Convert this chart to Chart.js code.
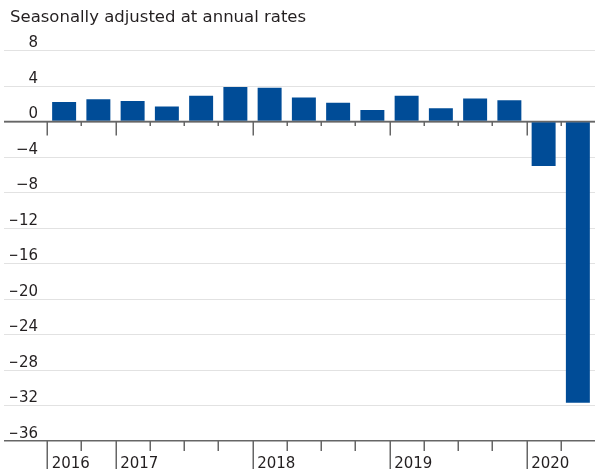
<!DOCTYPE html>
<html>
<head>
<meta charset="utf-8">
<script src="https://cdn.jsdelivr.net/npm/chart.js@4.4.1/dist/chart.umd.min.js"></script>
<style>
  html, body { margin: 0; padding: 0; background: #fff; }
  #wrap { width: 595px; height: 473px; position: relative; }
</style>
</head>
<body>
<div id="wrap"><canvas id="c" width="595" height="473"></canvas></div>
<script>
// ---- data ----
const title = 'Seasonally adjusted at annual rates';
const quarters = ['2016 Q3','2016 Q4','2017 Q1','2017 Q2','2017 Q3','2017 Q4',
                  '2018 Q1','2018 Q2','2018 Q3','2018 Q4','2019 Q1','2019 Q2',
                  '2019 Q3','2019 Q4','2020 Q1','2020 Q2'];
const growth = [2.2, 2.5, 2.3, 1.7, 2.9, 3.9, 3.8, 2.7, 2.1, 1.3, 2.9, 1.5, 2.6, 2.4, -5.0, -31.7];
const yMin = -36, yMax = 8, yStep = 4;

const FONT = "'DejaVu Sans', sans-serif";
const AXIS_COLOR = '#666666';
const GRID_COLOR = '#e2e2e2';
const TEXT_COLOR = '#231f20';
const BAR_COLOR = '#004c97';

function isYearStart(i) {
  return i === 0 || quarters[i].slice(0, 4) !== quarters[i - 1].slice(0, 4);
}

const tickPlugin = {
  id: 'quarterTicks',
  afterDatasetsDraw(chart) {
    const xs = chart.scales.x, ys = chart.scales.y;
    const ctx = chart.ctx;
    const step = xs.getPixelForValue(1) - xs.getPixelForValue(0);
    const y0 = ys.getPixelForValue(0);
    const yb = ys.getPixelForValue(yMin);
    ctx.save();
    ctx.strokeStyle = AXIS_COLOR;
    ctx.lineWidth = 1.5;
    // redraw zero line over bars
    ctx.beginPath();
    ctx.moveTo(4, y0); ctx.lineTo(chart.width, y0);
    ctx.stroke();
    for (let i = 0; i < quarters.length; i++) {
      const bx = Math.round(xs.getPixelForValue(i) - step / 2) + 0.25;
      const yr = isYearStart(i);
      ctx.beginPath();
      ctx.moveTo(bx, y0); ctx.lineTo(bx, y0 + (yr ? 14 : 4.5));
      ctx.moveTo(bx, yb); ctx.lineTo(bx, yb + (yr ? 28 : 10));
      ctx.stroke();
    }
    ctx.restore();
  }
};

new Chart(document.getElementById('c'), {
  type: 'bar',
  data: {
    labels: quarters,
    datasets: [{
      data: growth,
      backgroundColor: BAR_COLOR,
      borderWidth: 0,
      barPercentage: 0.7,
      categoryPercentage: 1.0
    }]
  },
  options: {
    responsive: false,
    animation: false,
    devicePixelRatio: 1,
    layout: { padding: { left: 10, right: -2, top: 0, bottom: 0 } },
    plugins: {
      legend: { display: false },
      tooltip: { enabled: false },
      title: {
        display: true,
        text: title,
        align: 'start',
        color: TEXT_COLOR,
        font: { family: FONT, size: 16.5, weight: 'normal' },
        padding: { top: 8.3, bottom: 22.4 }
      }
    },
    scales: {
      x: {
        type: 'category',
        grid: { display: false },
        border: { display: false },
        afterFit(scale) { scale.height = 32; },
        ticks: {
          autoSkip: false,
          maxRotation: 0,
          minRotation: 0,
          align: 'start',
          labelOffset: -12.5,
          padding: 6,
          color: TEXT_COLOR,
          font: { family: FONT, size: 15 },
          callback(value, index) {
            const lab = this.getLabelForValue(value);
            return isYearStart(index) ? lab.slice(0, 4) : '';
          }
        }
      },
      y: {
        min: yMin,
        max: yMax,
        border: { display: false },
        afterFit(scale) { scale.width = 37; },
        grid: {
          drawTicks: true,
          tickLength: 43,
          color: (c) => (c.tick && (c.tick.value === 0 || c.tick.value === yMin)) ? AXIS_COLOR : GRID_COLOR,
          tickColor: (c) => (c.tick && (c.tick.value === 0 || c.tick.value === yMin)) ? AXIS_COLOR : GRID_COLOR,
          lineWidth: (c) => (c.tick && (c.tick.value === 0 || c.tick.value === yMin)) ? 1.5 : 1,
          tickWidth: (c) => (c.tick && (c.tick.value === 0 || c.tick.value === yMin)) ? 1.5 : 1
        },
        ticks: {
          stepSize: yStep,
          padding: -34,
          labelOffset: -7,
          color: TEXT_COLOR,
          font: { family: FONT, size: 15 },
          callback(v) { return v < 0 ? '\u2212' + Math.abs(v) : String(v); }
        }
      }
    }
  },
  plugins: [tickPlugin]
});
</script>
</body>
</html>
